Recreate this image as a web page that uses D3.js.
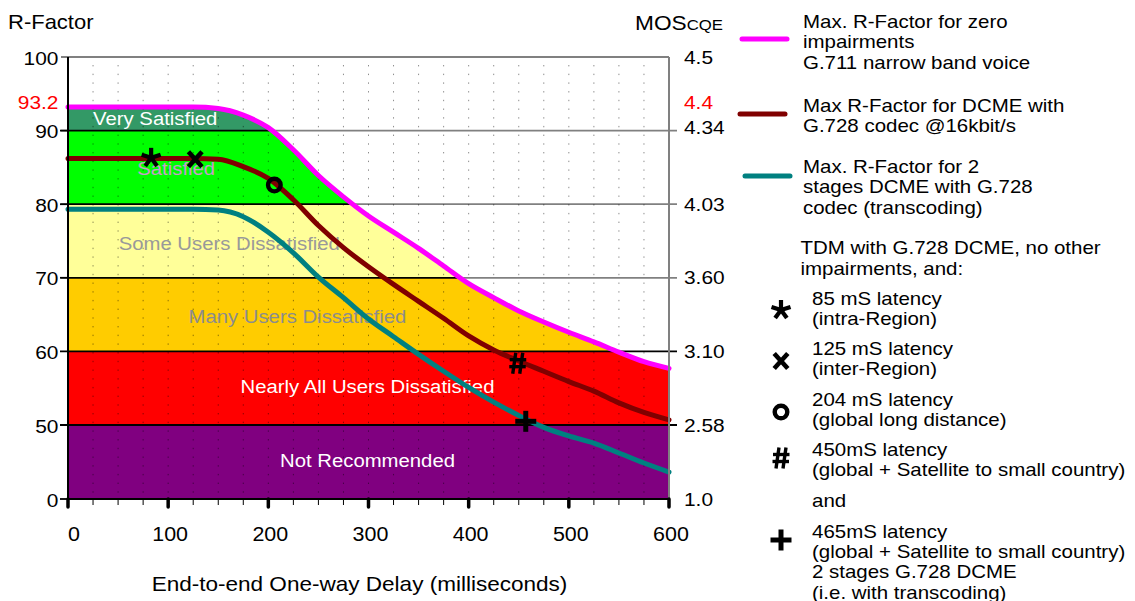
<!DOCTYPE html>
<html><head><meta charset="utf-8">
<script src="https://cdn.jsdelivr.net/npm/d3@7"></script>
<style>html,body{margin:0;padding:0;background:#fff;}svg{display:block;font-family:"Liberation Sans",Arial,sans-serif;}</style>
</head><body><svg id="c" width="1135" height="601"></svg>
<script>
// ---------------- data ----------------
const delays      = [0,25,50,75,100,125,150,175,200,225,250,275,300,325,350,375,400,425,450,475,500,525,550,575,600];
const rZeroImp    = [93.2,93.2,93.2,93.2,93.2,93.2,93.0,92.1,90.4,87.4,83.9,81.0,78.4,76.2,74.0,71.6,69.2,67.3,65.5,64.0,62.6,61.3,59.9,58.6,57.7];
const rDcme       = [86.2,86.2,86.2,86.2,86.2,86.2,86.1,85.1,83.5,80.6,77.1,74.1,71.5,69.1,66.8,64.5,62.1,60.2,58.7,57.3,55.9,54.6,53.0,51.7,50.7];
const rDcme2      = [79.3,79.3,79.3,79.3,79.3,79.3,79.2,78.3,76.2,73.4,70.1,67.3,64.4,62.0,59.6,57.3,55.1,53.1,51.3,48.4,42.6,37.8,31.1,24.3,18.2];
const seriesNames = [
  ["Max. R-Factor for zero","impairments","G.711 narrow band voice"],
  ["Max R-Factor for DCME with","G.728 codec @16kbit/s"],
  ["Max. R-Factor for 2","stages DCME with G.728","codec (transcoding)"]
];
const bandNames = ["Very Satisfied","Satisfied","Some Users Dissatisfied","Many Users Dissatisfied","Nearly All Users Dissatisfied","Not Recommended"];
const bandLow   = [90,80,70,60,50,0];
const bandHigh  = [100,90,80,70,60,50];
const leftTicks  = [100,90,80,70,60,50,0];
const rightTickR = [100,93.2,90,80,70,60,50,0];
const rightTickLabels = ["4.5","4.4","4.34","4.03","3.60","3.10","2.58","1.0"];
const xTicks = [0,100,200,300,400,500,600];
const markerSymbols = ["*","x","o","#","+"];
const markerDelays  = [83,127,206,449,457];
const markerR       = [86.3,86.1,82.6,58.4,50.5];
const markerText = [
  ["85 mS latency","(intra-Region)"],
  ["125 mS latency","(inter-Region)"],
  ["204 mS latency","(global long distance)"],
  ["450mS latency","(global + Satellite to small country)"],
  ["465mS latency","(global + Satellite to small country)","2 stages G.728 DCME","(i.e. with transcoding)"]
];

// ---------------- style ----------------
const seriesColors = ["#FF00FF","#800000","#008080"];
const bandColors = ["#339966","#00FF00","#FFFF99","#FFCC00","#FF0000","#800080"];
const bandLabelColors = ["#ffffff","#C79CCB","#999999","#8c8c8c","#ffffff","#ffffff"];
const bandLabelPos = [[87,125],[108,175],[161,250],[229,323],[299,393],[299,467]]; // [ms, baseline px]
const SX = 1.1;

const svg = d3.select("#c");
const x = d3.scaleLinear().domain([0,600]).range([68,669]);
const y = d3.scaleLinear().domain([0,50,100]).range([499,425,57]);

function txt(sel, px, py, s, o={}) {
  return sel.append("text")
    .attr("transform", `translate(${px},${py}) scale(${o.sx||SX},1)`)
    .attr("text-anchor", o.anchor||"start")
    .attr("font-size", o.size||19)
    .attr("font-weight", o.weight||"normal")
    .attr("fill", o.fill||"#000")
    .text(s);
}

// clip under the zero-impairment curve
const area = d3.area().x((d,i)=>x(delays[i])).y0(y(0)).y1(d=>y(d)).curve(d3.curveMonotoneX);
svg.append("clipPath").attr("id","under").append("path").attr("d", area(rZeroImp));

// gray grid lines (with right ticks)
[100,90,80,70].forEach(v=>{
  svg.append("line").attr("x1",61).attr("x2", v===100?669:677).attr("y1",y(v)).attr("y2",y(v))
    .attr("stroke","#808080").attr("stroke-width",1.8);
});

// bands
const bands = svg.append("g").attr("clip-path","url(#under)");
bandNames.forEach((n,i)=>{
  bands.append("rect").attr("x",x(0)).attr("width",x(600)-x(0))
    .attr("y",y(bandHigh[i])).attr("height",y(bandLow[i])-y(bandHigh[i])).attr("fill",bandColors[i]);
});
[90,80,70].forEach(v=>{
  bands.append("line").attr("x1",x(0)).attr("x2",x(600)).attr("y1",y(v)).attr("y2",y(v))
    .attr("stroke","#000").attr("stroke-width",1.8);
});
[60,50].forEach(v=>{
  svg.append("line").attr("x1",60).attr("x2",677).attr("y1",y(v)).attr("y2",y(v))
    .attr("stroke","#000").attr("stroke-width",1.8);
});
// left ticks
[90,80,70,0].forEach(v=>{
  svg.append("line").attr("x1",60).attr("x2",68).attr("y1",y(v)).attr("y2",y(v))
    .attr("stroke","#000").attr("stroke-width",1.8);
});

// dotted verticals
d3.range(25,600,25).forEach(d=>{
  svg.append("line").attr("x1",x(d)).attr("x2",x(d)).attr("y1",y(100)+8).attr("y2",y(0))
    .attr("stroke","#000").attr("stroke-opacity",0.45).attr("stroke-width",1)
    .attr("stroke-dasharray","1.4,7.3");
});

// band labels
bandNames.forEach((n,i)=>{
  txt(svg, x(bandLabelPos[i][0]), bandLabelPos[i][1], n, {anchor:"middle", size:19, fill:bandLabelColors[i], sx:1.07});
});

// curves
const line = d3.line().x((d,i)=>x(delays[i])).y(d=>y(d)).curve(d3.curveMonotoneX);
[rDcme2, rDcme, rZeroImp].forEach((s,k)=>{
  const ci = 2-k;
  svg.append("path").attr("d", line(s)).attr("fill","none")
    .attr("stroke", seriesColors[ci]).attr("stroke-width",5).attr("stroke-linecap","round").attr("stroke-linejoin","round");
});

// frame
svg.append("line").attr("x1",669).attr("x2",669).attr("y1",y(100)).attr("y2",y(0)).attr("stroke","#808080").attr("stroke-width",2);
svg.append("line").attr("x1",68).attr("x2",68).attr("y1",y(100)).attr("y2",y(0)+1).attr("stroke","#000").attr("stroke-width",2);
svg.append("line").attr("x1",68).attr("x2",669).attr("y1",y(0)).attr("y2",y(0)).attr("stroke","#000").attr("stroke-width",2);

// x ticks
d3.range(0,601,25).forEach(d=>{
  const major = d%100===0;
  svg.append("line").attr("x1",x(d)).attr("x2",x(d)).attr("y1",y(0)).attr("y2",y(0)+(major?8:6))
    .attr("stroke","#000").attr("stroke-width",major?3.5:1).attr("stroke-linecap",major?"round":"butt");
});
xTicks.forEach(d=>{
  txt(svg, x(d)+ (d===0?6:2), 541, String(d), {anchor:"middle", size:19.5});
});
txt(svg, 359.5, 591, "End-to-end One-way Delay (milliseconds)", {anchor:"middle", size:20.5, sx:1.1});

// left labels
leftTicks.forEach(v=>{
  txt(svg, 58.5, y(v)+7.5, String(v), {anchor:"end", size:19});
});
txt(svg, 58.5, y(93.2)+1.5, "93.2", {anchor:"end", size:19, fill:"#FF0000"});
txt(svg, 8, 29, "R-Factor", {size:20});

// right labels
rightTickR.forEach((v,i)=>{
  const off = v===93.2 ? 1.5 : (v===90 ? 3 : 6.5);
  txt(svg, 684, y(v)+off, rightTickLabels[i], {size:19, fill: v===93.2?"#FF0000":"#000"});
});
const mos = svg.append("text").attr("transform","translate(723,30) scale(1.08,1)").attr("text-anchor","end").attr("font-size",21);
mos.append("tspan").text("MOS");
mos.append("tspan").attr("font-size",15.5).text("CQE");

// markers
function drawMarker(g, sym, cx, cy) {
  const p = g.append("g").attr("transform",`translate(${cx},${cy})`).attr("stroke","#000").attr("fill","none");
  if (sym==="*") {
    for (let k=0;k<5;k++){
      const a = (-90 + k*72)*Math.PI/180;
      p.append("line").attr("x1",0).attr("y1",0).attr("x2",10*Math.cos(a)).attr("y2",10*Math.sin(a)).attr("stroke-width",4.2);
    }
  } else if (sym==="x") {
    p.append("line").attr("x1",-6.8).attr("y1",-7.5).attr("x2",6.8).attr("y2",7.5).attr("stroke-width",4.6);
    p.append("line").attr("x1",6.8).attr("y1",-7.5).attr("x2",-6.8).attr("y2",7.5).attr("stroke-width",4.6);
  } else if (sym==="o") {
    p.append("circle").attr("r",6.3).attr("stroke-width",4.4);
  } else if (sym==="#") {
    p.append("line").attr("x1",-2).attr("y1",-10.5).attr("x2",-5).attr("y2",10.5).attr("stroke-width",3.4);
    p.append("line").attr("x1",5).attr("y1",-10.5).attr("x2",2).attr("y2",10.5).attr("stroke-width",3.4);
    p.append("line").attr("x1",-8).attr("y1",-3.5).attr("x2",8.5).attr("y2",-3.5).attr("stroke-width",3.4);
    p.append("line").attr("x1",-8.5).attr("y1",3.5).attr("x2",8).attr("y2",3.5).attr("stroke-width",3.4);
  } else if (sym==="+") {
    p.append("line").attr("x1",-10.5).attr("y1",0).attr("x2",10.5).attr("y2",0).attr("stroke-width",5);
    p.append("line").attr("x1",0).attr("y1",-10.5).attr("x2",0).attr("y2",10.5).attr("stroke-width",5);
  }
}
markerSymbols.forEach((s,i)=> drawMarker(svg, s, x(markerDelays[i]), y(markerR[i])));

// legend
const LS = 18.6;
const legLineY = [39,114,176];
const legLineX = [[742,787],[740,785],[745,790]];
const legTextY = [27.5,111.5,172.5];
seriesNames.forEach((lines,i)=>{
  svg.append("line").attr("x1",legLineX[i][0]).attr("x2",legLineX[i][1]).attr("y1",legLineY[i]).attr("y2",legLineY[i])
    .attr("stroke",seriesColors[i]).attr("stroke-width",5).attr("stroke-linecap","round");
  lines.forEach((t,j)=> txt(svg, 803, legTextY[i]+j*20.5, t, {size:LS}));
});
txt(svg, 800.5, 254, "TDM with G.728 DCME, no other", {size:LS});
txt(svg, 800.5, 274.5, "impairments, and:", {size:LS});
const mkTextY = [305,355,406,455.5,538];
const mkSymY = [310,361,412,458,540];
markerSymbols.forEach((s,i)=>{
  drawMarker(svg, s, 781, mkSymY[i]);
  markerText[i].forEach((t,j)=> txt(svg, 812, mkTextY[i]+j*20.2, t, {size:LS}));
});
txt(svg, 812, 507, "and", {size:LS});
</script></body></html>
